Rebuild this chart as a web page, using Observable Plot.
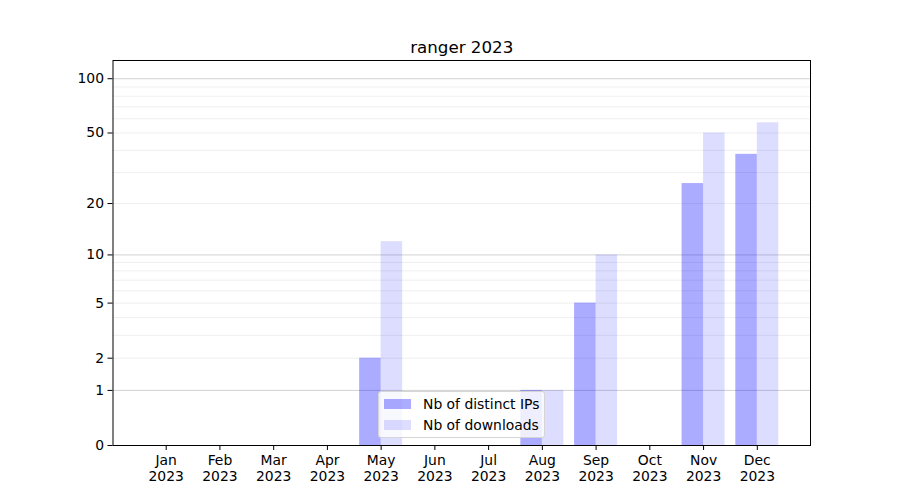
<!DOCTYPE html>
<html>
<head>
<meta charset="utf-8">
<script src="https://cdn.jsdelivr.net/npm/d3@7"></script>
<script src="https://cdn.jsdelivr.net/npm/@observablehq/plot@0.6"></script>
<style>
  html, body { margin: 0; padding: 0; background: white; }
  #wrap { position: relative; width: 900px; height: 500px; font-family: "DejaVu Sans", sans-serif; }
  #legend {
    position: absolute; left: 378px; top: 391px; width: 165px; height: 45px;
    background: rgba(255,255,255,0.8); border: 1px solid #d5d5d5; border-radius: 3px;
    font-size: 13.9px; color: black;
  }
  .row { position: absolute; left: 0; height: 16px; display: flex; align-items: center; }
  .sw { position: absolute; left: 5px; width: 27px; height: 10px; }
  .lb { position: absolute; left: 44px; white-space: nowrap; line-height: 16px; }
</style>
</head>
<body>
<div id="wrap">
  <div id="chart"></div>
  <div id="legend"></div>
</div>
<script>
const title = "ranger 2023";
const months = ["Jan","Feb","Mar","Apr","May","Jun","Jul","Aug","Sep","Oct","Nov","Dec"];
const year = "2023";
const ips = [0, 0, 0, 0, 2, 0, 0, 1, 5, 0, 26, 38];
const downloads = [0, 0, 0, 0, 12, 0, 0, 1, 10, 0, 50, 57];
const seriesNames = ["Nb of distinct IPs", "Nb of downloads"];
const seriesOpacity = [0.33, 0.133];
const yTicks = [0, 1, 2, 5, 10, 20, 50, 100];
const majorGrid = [1, 10, 100];
const minorGrid = [2, 3, 4, 5, 6, 7, 8, 9, 20, 30, 40, 50, 60, 70, 80, 90];

const rows = months.map((m, i) => ({i, ips: ips[i], downloads: downloads[i]}));

const chart = Plot.plot({
  width: 900, height: 500,
  marginLeft: 112.5, marginRight: 90, marginTop: 60, marginBottom: 55,
  style: {fontFamily: "DejaVu Sans", fontSize: "13.9px", background: "white", color: "black"},
  x: {type: "linear", domain: [-0.99, 11.99]},
  y: {type: "symlog", constant: 1, domain: [0, 126]},
  marks: [
    Plot.ruleY(minorGrid, {stroke: "#ebebeb", strokeWidth: 0.8}),
    Plot.ruleY(majorGrid, {stroke: "#c8c8c8", strokeWidth: 0.8}),
    Plot.rect(rows.filter(d => d.ips > 0), {x1: d => d.i - 0.4, x2: d => d.i, y1: 0, y2: "ips", fill: "blue", fillOpacity: seriesOpacity[0]}),
    Plot.rect(rows.filter(d => d.downloads > 0), {x1: d => d.i, x2: d => d.i + 0.4, y1: 0, y2: "downloads", fill: "blue", fillOpacity: seriesOpacity[1]}),
    Plot.axisX({ticks: d3.range(months.length), tickFormat: i => months[i] + "\n" + year, tickSize: 5, tickPadding: 3, lineHeight: 1.15, label: null}),
    Plot.axisY({ticks: yTicks, tickFormat: d => String(d), tickSize: 5, tickPadding: 4, label: null}),
    Plot.frame({stroke: "black", strokeWidth: 1}),
    Plot.text([title], {frameAnchor: "top", lineAnchor: "bottom", dy: -8, fontSize: 16.7, fill: "black"})
  ]
});
document.getElementById("chart").appendChild(chart);

const legend = document.getElementById("legend");
seriesNames.forEach((name, k) => {
  const top = 5 + k * 21;
  const sw = document.createElement("div");
  sw.className = "sw";
  sw.style.top = (top + 2) + "px";
  sw.style.background = `rgba(0,0,255,${seriesOpacity[k]})`;
  legend.appendChild(sw);
  const lb = document.createElement("div");
  lb.className = "lb";
  lb.style.top = (top - 1) + "px";
  lb.textContent = name;
  legend.appendChild(lb);
});
</script>
</body>
</html>
